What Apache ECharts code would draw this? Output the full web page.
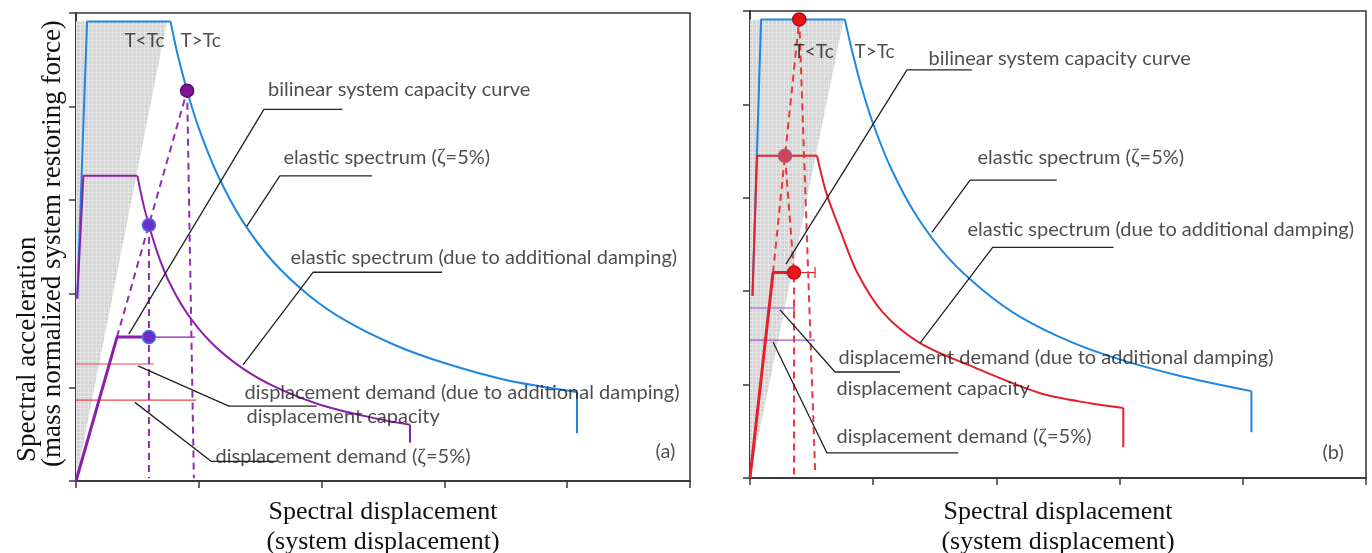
<!DOCTYPE html>
<html>
<head>
<meta charset="utf-8">
<script src="https://cdn.jsdelivr.net/npm/echarts@6/dist/echarts.min.js"></script>
<style>
  html, body { margin: 0; padding: 0; background: #ffffff; }
  #chart { width: 1372px; height: 553px; }
</style>
</head>
<body>
<div id="chart"></div>
<script>
// ---------- shared axis ticks (no labels shown) ----------
const AXIS_TICKS = [0, 1, 2, 3, 4, 5];

// ---------- panel (a) ----------
const wedgeA = [[0, 0], [0.74, 4.91], [0, 4.91]];
const elasticRiseA = [[0.01, 1.95], [0.09, 4.91], [0.77, 4.91]];
const elasticCurveA = [[0.77, 4.91], [0.82, 4.60], [0.905, 4.17], [1.0, 3.77], [1.15, 3.28], [1.35, 2.79], [1.6, 2.35], [1.9, 1.98], [2.2, 1.71], [2.6, 1.45], [3.0, 1.26], [3.5, 1.08], [4.08, 0.95]];
const elasticEndA = [[4.08, 0.95], [4.08, 0.51]];
const dampedRiseA = [[0.01, 1.95], [0.06, 3.26], [0.5, 3.26]];
const dampedCurveA = [[0.5, 3.26], [0.55, 2.95], [0.594, 2.735], [0.66, 2.45], [0.75, 2.15], [0.9, 1.80], [1.1, 1.48], [1.36, 1.20], [1.63, 1.0], [2.0, 0.81], [2.4, 0.68], [2.72, 0.60]];
const dampedEndA = [[2.72, 0.60], [2.72, 0.41]];
const capacityA = [[0, 0], [0.334, 1.538], [0.594, 1.538]];
const capacityExtA = [[0.594, 1.538], [0.97, 1.538]];
const radialA = [[0.334, 1.538], [0.905, 4.17]];
const demandDampedA = [[0.594, 2.735], [0.594, 0.03]];
const demand5A = [[0.905, 4.17], [0.96, 0.03]];
const marksA = [[[0, 1.25], [0.635, 1.25]], [[0, 0.865], [0.977, 0.865]]];
const topPointA = [[0.905, 4.17]];
const lowPointsA = [[0.594, 2.735], [0.594, 1.538]];
const leadersA = [
  [[0.43, 1.57], [1.53, 3.97], [2.17, 3.97]],
  [[1.39, 2.72], [1.66, 3.26], [2.41, 3.26]],
  [[1.36, 1.24], [1.93, 2.23], [2.98, 2.23]],
  [[0.505, 1.23], [1.245, 0.80], [1.96, 0.80]],
  [[0.48, 0.84], [1.10, 0.21], [1.64, 0.21]]
];
const labelsA = [
  [1.56, 4.18, 'bilinear system capacity curve'],
  [1.686, 3.46, 'elastic spectrum (ζ=5%)'],
  [1.743, 2.39, 'elastic spectrum (due to additional damping)'],
  [1.368, 0.95, 'displacement demand (due to additional damping)'],
  [1.384, 0.684, 'displacement capacity'],
  [1.132, 0.256, 'displacement demand (ζ=5%)'],
  [4.715, 0.31, '(a)']
];
const regionLabelsA = [
  [0.39, 4.70, 'T<Tc'],
  [0.847, 4.70, 'T>Tc']
];

// ---------- panel (b) ----------
const wedgeB = [[0, 0], [0.76, 4.91], [0, 4.91]];
const elasticRiseB = [[0.02, 1.95], [0.09, 4.91], [0.77, 4.91]];
const elasticCurveB = [[0.77, 4.91], [0.82, 4.62], [0.9, 4.21], [1.0, 3.79], [1.15, 3.30], [1.35, 2.81], [1.6, 2.37], [1.9, 2.0], [2.2, 1.72], [2.6, 1.46], [3.0, 1.27], [3.5, 1.09], [4.07, 0.93]];
const elasticEndB = [[4.07, 0.93], [4.07, 0.49]];
const dampedRiseB = [[0.02, 1.95], [0.057, 3.45], [0.544, 3.45]];
const dampedCurveB = [[0.544, 3.45], [0.62, 3.05], [0.73, 2.66], [0.87, 2.20], [1.08, 1.77], [1.38, 1.445], [1.81, 1.19], [2.35, 0.91], [2.76, 0.80], [3.03, 0.75]];
const dampedEndB = [[3.03, 0.75], [3.03, 0.33]];
const capacityB = [[0, 0], [0.187, 2.2], [0.357, 2.2]];
const capacityExtB = [[0.357, 2.2], [0.528, 2.2]];
const radialB = [[0.187, 2.2], [0.284, 3.45], [0.40, 4.91]];
const demandDampedB = [[0.284, 3.45], [0.357, 2.2], [0.357, 0.03]];
const demand5B = [[0.40, 4.91], [0.53, 0.03]];
const marksB = [[[0, 1.82], [0.357, 1.82]], [[0, 1.477], [0.528, 1.477]]];
const capsB = [[[0.357, 1.77], [0.357, 1.87]], [[0.528, 2.14], [0.528, 2.26]]];
const topPointB = [[0.40, 4.91]];
const midPointB = [[0.284, 3.45]];
const lowPointB = [[0.357, 2.2]];
const leadersB = [
  [[0.292, 2.29], [1.274, 4.37], [1.80, 4.37]],
  [[1.477, 2.63], [1.786, 3.19], [2.49, 3.19]],
  [[1.38, 1.445], [1.97, 2.47], [2.95, 2.47]],
  [[0.244, 1.80], [0.69, 1.135], [1.218, 1.135]],
  [[0.187, 1.456], [0.625, 0.268], [1.69, 0.268]]
];
const labelsB = [
  [1.445, 4.49, 'bilinear system capacity curve'],
  [1.843, 3.43, 'elastic spectrum (ζ=5%)'],
  [1.761, 2.655, 'elastic spectrum (due to additional damping)'],
  [0.714, 1.285, 'displacement demand (due to additional damping)'],
  [0.698, 0.953, 'displacement capacity'],
  [0.698, 0.439, 'displacement demand (ζ=5%)'],
  [4.643, 0.268, '(b)']
];
const regionLabelsB = [
  [0.349, 4.56, 'T<Tc'],
  [0.844, 4.56, 'T>Tc']
];

// ---------- styling ----------
const BLUE = '#1f87e2';
const PURPLE = '#8b1fa9';
const RED = '#e3202c';
const INK = '#222222';

// fine grid texture for the T<Tc region
const tile = document.createElement('canvas');
tile.width = 4; tile.height = 4;
const tg = tile.getContext('2d');
tg.fillStyle = '#d4d4d4'; tg.fillRect(0, 0, 4, 4);
tg.fillStyle = '#e6e6e6'; tg.fillRect(0, 0, 4, 1); tg.fillRect(0, 0, 1, 4);
const GRID_FILL = { image: tile, repeat: 'repeat' };

function line(i, data, color, width, extra) {
  return Object.assign({
    type: 'line', xAxisIndex: i, yAxisIndex: i, data: data,
    symbol: 'none', showSymbol: false, silent: true, animation: false,
    lineStyle: { color: color, width: width }, z: 3
  }, extra || {});
}
function dashed(i, data, color) {
  return line(i, data, color, 2, { lineStyle: { color: color, width: 2, type: [7, 5] }, z: 4 });
}
function curve(i, data, color) {
  return line(i, data, color, 2, { smooth: 0.3 });
}
function wedge(i, pts) {
  return {
    type: 'custom', xAxisIndex: i, yAxisIndex: i, data: [[0, 0]], silent: true, z: 1,
    animation: false,
    renderItem: function (params, api) {
      return { type: 'polygon', shape: { points: pts.map(function (p) { return api.coord(p); }) },
               style: { fill: GRID_FILL } };
    }
  };
}
function dots(i, data, fill, border) {
  return {
    type: 'scatter', xAxisIndex: i, yAxisIndex: i, data: data, symbolSize: 13,
    silent: true, animation: false, z: 6,
    itemStyle: { color: fill, borderColor: border, borderWidth: 1.5, opacity: 1 }
  };
}
function labels(i, items, size) {
  return {
    type: 'scatter', xAxisIndex: i, yAxisIndex: i, symbolSize: 1, silent: true, animation: false, z: 8,
    itemStyle: { color: 'rgba(0,0,0,0)' },
    data: items.map(function (t) { return { value: [t[0], t[1]], name: t[2] }; }),
    label: {
      show: true, position: 'right', distance: 0,
      formatter: function (p) { return p.name.replace('ζ', '{z|ζ}'); },
      color: INK, fontFamily: 'Lato', fontSize: size,
      rich: { z: { fontFamily: 'Liberation Serif', fontSize: size + 1, color: INK } }
    }
  };
}

function panelSeries(i, P) {
  const s = [];
  s.push(wedge(i, P.wedge));
  s.push(line(i, P.elasticRise, P.elasticColor, 2));
  s.push(curve(i, P.elasticCurve, P.elasticColor));
  s.push(line(i, P.elasticEnd, P.elasticColor, 2));
  s.push(line(i, P.dampedRise, P.dampedColor, 2));
  s.push(curve(i, P.dampedCurve, P.dampedColor));
  s.push(line(i, P.dampedEnd, P.dampedColor, 2));
  P.marks.forEach(function (m) { s.push(line(i, m, P.markColor, 1.2, { z: 2 })); });
  (P.caps || []).forEach(function (m) { s.push(line(i, m, P.capColor, 1.2, { z: 2 })); });
  s.push(line(i, P.capacityExt, P.dampedColor, 1.2));
  s.push(line(i, P.capacity, P.dampedColor, 3, { z: 5 }));
  s.push(dashed(i, P.radial, P.dashColor));
  s.push(dashed(i, P.demandDamped, P.dashColor));
  s.push(dashed(i, P.demand5, P.dashColor));
  P.leaders.forEach(function (l) { s.push(line(i, l, INK, 1.3, { z: 7 })); });
  P.points.forEach(function (d) { s.push(dots(i, d[0], d[1], d[2])); });
  s.push(labels(i, P.labels, 20));
  s.push(labels(i, P.regionLabels, 19));
  return s;
}

const series = [].concat(
  panelSeries(0, {
    wedge: wedgeA, elasticRise: elasticRiseA, elasticCurve: elasticCurveA, elasticEnd: elasticEndA,
    dampedRise: dampedRiseA, dampedCurve: dampedCurveA, dampedEnd: dampedEndA,
    capacity: capacityA, capacityExt: capacityExtA, radial: radialA,
    demandDamped: demandDampedA, demand5: demand5A, marks: marksA,
    leaders: leadersA, labels: labelsA, regionLabels: regionLabelsA,
    elasticColor: BLUE, dampedColor: PURPLE, dashColor: '#8e2fae', markColor: '#e8484c',
    points: [[topPointA, '#7c1791', '#5a0f6e'], [lowPointsA, '#6a2fc4', '#4b6df0']]
  }),
  panelSeries(1, {
    wedge: wedgeB, elasticRise: elasticRiseB, elasticCurve: elasticCurveB, elasticEnd: elasticEndB,
    dampedRise: dampedRiseB, dampedCurve: dampedCurveB, dampedEnd: dampedEndB,
    capacity: capacityB, capacityExt: capacityExtB, radial: radialB,
    demandDamped: demandDampedB, demand5: demand5B, marks: marksB, caps: capsB,
    leaders: leadersB, labels: labelsB, regionLabels: regionLabelsB,
    elasticColor: BLUE, dampedColor: RED, dashColor: '#e53a44', markColor: '#9a58cc', capColor: RED,
    points: [[topPointB, '#e41414', '#a30c0c'], [midPointB, '#d0445a', '#b05a70'], [lowPointB, '#ea1a1a', '#c01010']]
  })
);

function xAxis(i, gap) {
  return {
    type: 'value', gridIndex: i, min: AXIS_TICKS[0], max: AXIS_TICKS[AXIS_TICKS.length - 1], interval: 1,
    axisLine: { show: true, lineStyle: { color: '#3a3a3a', width: 2 } },
    axisTick: { show: true, inside: false, length: 7, lineStyle: { color: '#3a3a3a', width: 1.5 } },
    axisLabel: { show: false }, splitLine: { show: false },
    name: 'Spectral displacement\n(system displacement)', nameLocation: 'middle', nameGap: gap,
    nameTextStyle: { fontFamily: 'Liberation Serif', fontSize: 26, color: '#111', lineHeight: 30, verticalAlign: 'top' }
  };
}
function yAxis(i) {
  return {
    type: 'value', gridIndex: i, min: AXIS_TICKS[0], max: AXIS_TICKS[AXIS_TICKS.length - 1], interval: 1,
    axisLine: { show: true, lineStyle: { color: '#3a3a3a', width: 2 } },
    axisTick: { show: true, inside: false, length: 7, lineStyle: { color: '#3a3a3a', width: 1.5 } },
    axisLabel: { show: false }, splitLine: { show: false }
  };
}

const chart = echarts.init(document.getElementById('chart'), null, { renderer: 'canvas' });
chart.setOption({
  backgroundColor: '#ffffff',
  animation: false,
  grid: [
    { left: 76, top: 13, width: 614, height: 468, outerBoundsMode: 'none', containLabel: false,
      show: true, borderColor: '#333', borderWidth: 1.5, backgroundColor: 'transparent' },
    { left: 750, top: 11, width: 616, height: 467, outerBoundsMode: 'none', containLabel: false,
      show: true, borderColor: '#333', borderWidth: 1.5, backgroundColor: 'transparent' }
  ],
  xAxis: [xAxis(0, 16), xAxis(1, 19)],
  yAxis: [yAxis(0), yAxis(1)],
  graphic: [
    { type: 'text', x: 28, y: 462, rotation: Math.PI / 2, silent: true,
      style: { text: 'Spectral acceleration', font: '27px "Liberation Serif"', fill: '#111', align: 'left', verticalAlign: 'middle' } },
    { type: 'text', x: 53, y: 467, rotation: Math.PI / 2, silent: true,
      style: { text: '(mass normalized system restoring force)', font: '27px "Liberation Serif"', fill: '#111', align: 'left', verticalAlign: 'middle' } }
  ],
  series: series
});
</script>
</body>
</html>
